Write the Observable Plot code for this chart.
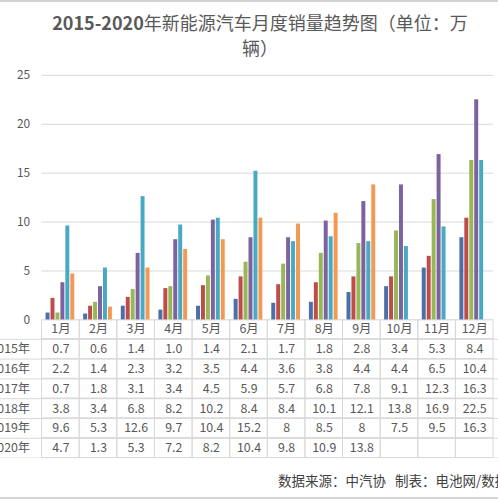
<!DOCTYPE html>
<html><head><meta charset="utf-8">
<script src="https://cdn.jsdelivr.net/npm/d3@7"></script>
<script src="https://cdn.jsdelivr.net/npm/@observablehq/plot@0.6"></script>
<style>
html,body{margin:0;padding:0;background:#fff;overflow:hidden;}
#wrap{width:498px;height:499px;position:relative;overflow:hidden;font-family:"Noto Sans CJK SC","Noto Sans",sans-serif;}
#topline{height:2px;background:#d4d4d4;}
#title{height:60px;box-sizing:border-box;padding-top:8px;padding-left:22px;text-align:center;font-size:18px;line-height:25px;color:#595959;white-space:nowrap;}
#title .num{font-weight:bold;}
#chart svg,#table svg{display:block;}
#chart svg{overflow:visible;position:relative;z-index:2;}
#table svg{overflow:hidden;}
#source{height:36px;box-sizing:border-box;padding-top:14px;padding-left:278px;font-size:13.5px;line-height:16px;color:#404040;white-space:nowrap;}
#bottomline{position:absolute;left:0;top:497px;width:498px;height:2px;background:#d4d4d4;}
</style>
</head>
<body>
<div id="wrap">
  <div id="topline"></div>
  <div id="title"><span class="num">2015-2020</span>年新能源汽车月度销量趋势图（单位：万<br>辆）</div>
  <div id="chart"></div>
  <div id="table"></div>
  <div id="source">数据来源：中汽协&nbsp;&nbsp;&nbsp;制表：电池网/数据</div>
  <div id="bottomline"></div>
</div>
<script>
const months = ["1月","2月","3月","4月","5月","6月","7月","8月","9月","10月","11月","12月"];
const years = ["2015年","2016年","2017年","2018年","2019年","2020年"];
const s2015 = [0.7,0.6,1.4,1.0,1.4,2.1,1.7,1.8,2.8,3.4,5.3,8.4];
const s2016 = [2.2,1.4,2.3,3.2,3.5,4.4,3.6,3.8,4.4,4.4,6.5,10.4];
const s2017 = [0.7,1.8,3.1,3.4,4.5,5.9,5.7,6.8,7.8,9.1,12.3,16.3];
const s2018 = [3.8,3.4,6.8,8.2,10.2,8.4,8.4,10.1,12.1,13.8,16.9,22.5];
const s2019 = [9.6,5.3,12.6,9.7,10.4,15.2,8,8.5,8,7.5,9.5,16.3];
const s2020 = [4.7,1.3,5.3,7.2,8.2,10.4,9.8,10.9,13.8];
const yTicks = [0,5,10,15,20,25];
const colors = ["#4A6FA9","#BC4D49","#98B756","#7C63A0","#47A9C4","#F29A55"];
const headerKey = "月份";

const series = [s2015,s2016,s2017,s2018,s2019,s2020];
const bars = [];
years.forEach((yr,i)=>series[i].forEach((v,j)=>bars.push({month:months[j],year:yr,value:v})));

const font = '"Noto Sans CJK SC","Noto Sans",sans-serif';
const gridColor = "#d9d9d9";

const chart = Plot.plot({
  width: 503, height: 260,
  marginTop: 13, marginBottom: 0, marginLeft: 36, marginRight: 0,
  style: {fontFamily: font, fontSize: "12px", color: "#595959", background: "transparent"},
  fx: {domain: months, padding: 0, axis: null, label: null},
  x: {domain: years, paddingInner: 0.17, paddingOuter: 0.83, axis: null},
  y: {domain: [0,25], ticks: yTicks, tickSize: 0, tickPadding: 12, label: null},
  color: {domain: years, range: colors},
  marks: [
    Plot.ruleY(yTicks, {stroke: gridColor}),
    Plot.barY(bars, {fx: "month", x: "year", y: "value", fill: "year"})
  ]
});
document.getElementById("chart").appendChild(chart);

const rows = [headerKey, ...years];
const cells = [];
rows.forEach(r => months.forEach(m => cells.push({row: r, month: m})));
const texts = [];
months.forEach(m => texts.push({row: headerKey, month: m, label: m}));
years.forEach((yr,i) => series[i].forEach((v,j) => texts.push({row: yr, month: months[j], label: yr === "2015年" ? v.toFixed(1) : String(v)})));

const table = Plot.plot({
  width: 503, height: 140,
  marginTop: 0, marginBottom: 0, marginLeft: 36, marginRight: 0,
  style: {fontFamily: font, fontSize: "12.5px", color: "#595959", background: "transparent"},
  x: {domain: months, padding: 0, axis: null},
  y: {domain: rows, padding: 0, tickSize: 0, tickPadding: 6, label: null, tickFormat: d => d === headerKey ? "" : d},
  marks: [
    Plot.cell(cells, {x: "month", y: "row", fill: "none", stroke: gridColor, inset: 0}),
    Plot.ruleY(rows, {y: d => d, dy: 10, insetLeft: -36, stroke: gridColor}),
    Plot.text(texts, {x: "month", y: "row", text: "label", fill: "#595959", fontSize: 12.5})
  ]
});
document.getElementById("table").appendChild(table);
</script>
</body></html>
